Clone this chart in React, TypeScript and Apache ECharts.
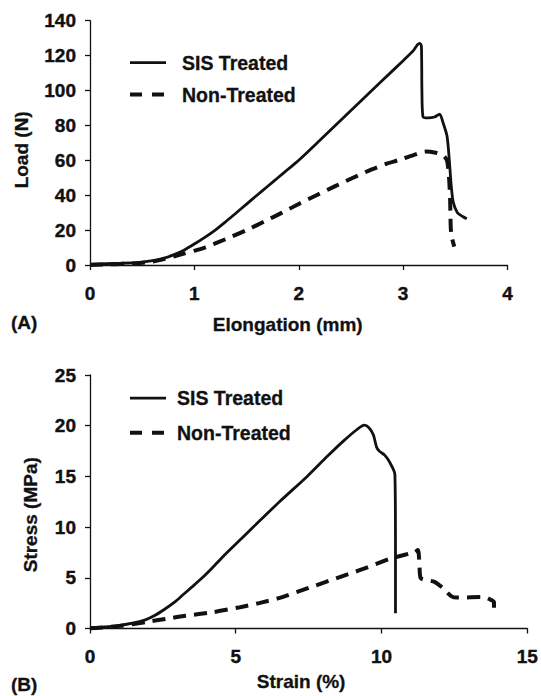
import React, { useEffect, useRef } from "react";
import * as echarts from "echarts";

// ---- Data ----
const seriesNames = ["SIS Treated", "Non-Treated"];

// (A) Load (N) vs Elongation (mm)
const sisLoad: [number, number][] = [
  [0, 0.5], [0.3, 1.0], [0.5, 1.7], [0.6, 2.5], [0.7, 3.8], [0.8, 5.8],
  [0.9, 8.5], [1.0, 12], [1.1, 15.8], [1.2, 20], [1.3, 24.8], [1.4, 29.8],
  [1.5, 34.9], [1.6, 40], [1.7, 45], [1.8, 50], [1.9, 55], [2.0, 60],
  [2.2, 71.3], [2.4, 82.8], [2.6, 94.3], [2.8, 105.7], [3.0, 117.1],
  [3.1, 123], [3.14, 126.4], [3.16, 127], [3.175, 125.5], [3.18, 100],
  [3.19, 85], [3.24, 84.3], [3.3, 84.8], [3.35, 86.5], [3.38, 82],
  [3.42, 74], [3.44, 62], [3.46, 46], [3.48, 36], [3.52, 30], [3.57, 27.8],
  [3.61, 26.5],
];
const nonLoad: [number, number][] = [
  [0, 0], [0.45, 1.0], [0.6, 2.0], [0.7, 3.2], [0.8, 4.8], [0.9, 6.5],
  [1.0, 8.2], [1.1, 10], [1.3, 14.8], [1.5, 20], [1.7, 25.8], [1.84, 30],
  [2.0, 35], [2.17, 40], [2.35, 45.2], [2.52, 50], [2.7, 54.8], [2.85, 58.2],
  [2.95, 60], [3.1, 63], [3.22, 65], [3.3, 64.5], [3.38, 63], [3.42, 60],
  [3.44, 50], [3.45, 38], [3.46, 18], [3.49, 10.5],
];

// (B) Stress (MPa) vs Strain (%)
const sisStress: [number, number][] = [
  [0, 0.1], [0.5, 0.15], [1.0, 0.3], [1.5, 0.55], [1.9, 0.85], [2.2, 1.25],
  [2.56, 1.9], [2.9, 2.6], [3.2, 3.35], [3.5, 4.1], [3.85, 5.0], [4.2, 6.0],
  [4.6, 7.2], [5.1, 8.6], [5.6, 10], [6.5, 12.5], [7.45, 15], [8.15, 17],
  [8.7, 18.5], [9.15, 19.6], [9.41, 20.05], [9.57, 19.8], [9.72, 19.1],
  [9.83, 17.9], [9.92, 17.5], [10.11, 17.1], [10.28, 16.4], [10.46, 15.2],
  [10.48, 8], [10.48, 1.5],
];
const nonStress: [number, number][] = [
  [0, 0], [1.03, 0.26], [1.97, 0.66], [2.6, 0.95], [3.27, 1.25], [4.2, 1.6],
  [5.15, 2.1], [5.8, 2.5], [6.48, 3.0], [7.5, 4.0], [8.69, 5.2], [9.3, 5.8],
  [9.89, 6.45], [10.3, 6.9], [10.57, 7.1], [10.97, 7.4], [11.15, 7.5],
  [11.25, 7.75], [11.3, 6.5], [11.34, 5.0], [11.82, 4.6], [12.1, 4.0],
  [12.39, 3.2], [12.6, 3.05], [13.52, 3.1], [13.7, 2.9], [13.86, 2.6],
  [13.86, 1.3],
];

const FONT = "'Liberation Sans', Arial, Helvetica, sans-serif";
const INK = "#111";

export default function App() {
  const ref = useRef<HTMLDivElement>(null);

  useEffect(() => {
    if (!ref.current) return;
    const chart = echarts.init(ref.current, null, { renderer: "svg" });

    const labelStyle = {
      color: INK,
      fontFamily: FONT,
      fontWeight: "bold",
      fontSize: 19,
      textBorderColor: INK,
      textBorderWidth: 0.4,
    };
    const nameStyle = {
      color: INK,
      fontFamily: FONT,
      fontWeight: "bold",
      fontSize: 19,
      textBorderColor: INK,
      textBorderWidth: 0.3,
    };

    const axisCommon = {
      type: "value" as const,
      axisLine: { show: true, lineStyle: { color: INK, width: 1.3 } },
      axisTick: { show: true, inside: false, length: 5, lineStyle: { color: INK, width: 1.3 } },
      splitLine: { show: false },
      nameLocation: "middle" as const,
    };

    const solid = { color: INK, width: 2.8, type: "solid" as const };
    const dashed = { color: INK, width: 4, type: [13, 8] as number[] };

    const legendCommon = (top: number, gap: number, textPad: number) => ({
      orient: "vertical" as const,
      left: 128,
      top,
      padding: 0,
      itemWidth: 36,
      itemHeight: 14,
      itemGap: gap,
      selectedMode: false,
      textStyle: { ...nameStyle, fontSize: 19.5, padding: [0, 0, 0, textPad] },
      data: [
        {
          name: seriesNames[0],
          itemStyle: { opacity: 0, borderWidth: 0 },
          lineStyle: { width: 2.8, type: "solid", color: INK },
        },
        {
          name: seriesNames[1],
          itemStyle: { opacity: 0, borderWidth: 0 },
          lineStyle: { width: 4, type: [12, 10], color: INK },
        },
      ],
    });

    const lineSeries = (name: string, xi: number, data: [number, number][], style: object, z: number) => ({
      name,
      type: "line",
      xAxisIndex: xi,
      yAxisIndex: xi,
      data,
      symbol: "none",
      smooth: 0.25,
      lineStyle: style,
      itemStyle: { color: INK },
      z,
    });

    chart.setOption({
      animation: false,
      backgroundColor: "#fff",
      title: [
        { text: "(A)", left: 11, top: 313, padding: 0, textStyle: nameStyle },
        { text: "(B)", left: 11, top: 675, padding: 0, textStyle: nameStyle },
      ],
      legend: [legendCommon(52.4, 11.7, 11), legendCommon(388, 14.4, 6)],
      grid: [
        { left: 90, top: 20.7, width: 417.5, height: 244.3 },
        { left: 90, top: 375, width: 440, height: 253.5 },
      ],
      xAxis: [
        {
          ...axisCommon, gridIndex: 0, min: 0, max: 4, interval: 1,
          name: "Elongation (mm)", nameGap: 50,
          axisLabel: { ...labelStyle, margin: 18.5 },
          nameTextStyle: { ...nameStyle, padding: [0, 22, 0, 0] },
        },
        {
          ...axisCommon, gridIndex: 1, min: 0, max: 15, interval: 5,
          name: "Strain (%)", nameGap: 43,
          axisLabel: { ...labelStyle, margin: 18.5 },
          nameTextStyle: { ...nameStyle, padding: [0, 15, 0, 0] },
        },
      ],
      yAxis: [
        {
          ...axisCommon, gridIndex: 0, min: 0, max: 140, interval: 20,
          name: "Load (N)", nameGap: 59,
          axisLabel: { ...labelStyle, margin: 14 },
          nameTextStyle: { ...nameStyle, padding: [0, 14, 0, 0] },
        },
        {
          ...axisCommon, gridIndex: 1, min: 0, max: 25, interval: 5,
          name: "Stress (MPa)", nameGap: 50,
          axisLabel: { ...labelStyle, margin: 14 },
          nameTextStyle: { ...nameStyle, padding: [0, 26, 0, 0] },
        },
      ],
      series: [
        lineSeries(seriesNames[0], 0, sisLoad, solid, 3),
        lineSeries(seriesNames[1], 0, nonLoad, dashed, 2),
        lineSeries(seriesNames[0], 1, sisStress, solid, 3),
        lineSeries(seriesNames[1], 1, nonStress, dashed, 2),
      ],
    });

    return () => chart.dispose();
  }, []);

  return (
    <div
      ref={ref}
      style={{ position: "fixed", left: 0, top: 0, width: 541, height: 696, background: "#fff" }}
    />
  );
}
